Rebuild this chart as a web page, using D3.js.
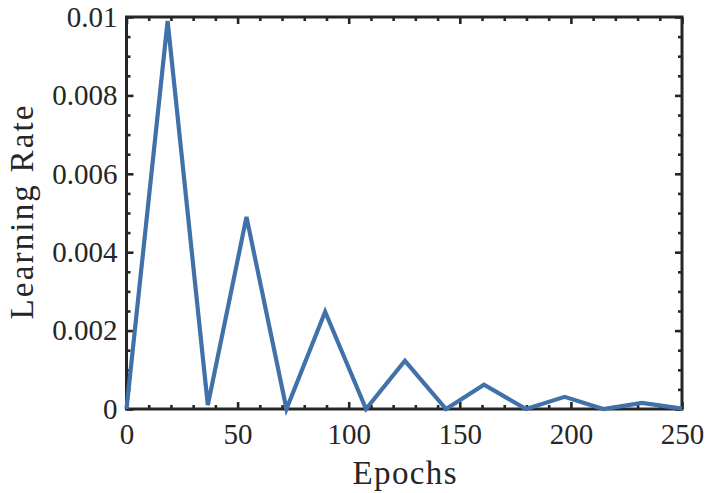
<!DOCTYPE html>
<html>
<head>
<meta charset="utf-8">
<script src="https://cdn.jsdelivr.net/npm/d3@7"></script>
<style>
  body { margin: 0; background: white; }
  text { font-family: "Liberation Serif", "Times New Roman", serif; fill: #262626; }
</style>
</head>
<body>
<script>
const width = 707;
const height = 493;

// values
const epochs = [0, 18.5, 36.6, 54, 72, 89.4, 107.8, 125.3, 143.8, 160.9, 179.8, 197.2, 214.6, 232, 250];
const learningRate = [0, 0.0099, 0.0001, 0.0049, 0, 0.00248, 0, 0.00123, 0, 0.00062, 0, 0.00031, 0, 0.000155, 0.00001];

const xTicks = [0, 50, 100, 150, 200, 250];
const xTickLabels = ["0", "50", "100", "150", "200", "250"];
const yTicks = [0, 0.002, 0.004, 0.006, 0.008, 0.01];
const yTickLabels = ["0", "0.002", "0.004", "0.006", "0.008", "0.01"];
const xMinor = d3.range(0, 251, 10).filter(v => !xTicks.includes(v));
const yMinor = d3.range(0, 21).map(i => i * 0.0005).filter(v => !yTicks.some(t => Math.abs(t - v) < 1e-9));

const plotLeft = 126.5, plotRight = 682, plotTop = 17, plotBottom = 409;

const x = d3.scaleLinear().domain([0, 250]).range([plotLeft, plotRight]);
const y = d3.scaleLinear().domain([0, 0.01]).range([plotBottom, plotTop]);

const svg = d3.select("body")
    .append("svg")
    .attr("width", width)
    .attr("height", height);

const ink = "#262626";

function styleAxis(g) {
    g.select(".domain").remove();
    g.selectAll(".tick line").attr("stroke", ink).attr("stroke-width", 2.6);
    g.selectAll(".tick text").style("font-size", "29px").attr("fill", ink);
}

// bottom
svg.append("g").attr("transform", `translate(0,${plotBottom})`)
    .call(d3.axisBottom(x).tickValues(xTicks).tickSize(-7).tickPadding(14)
        .tickFormat((d, i) => xTickLabels[i]))
    .call(styleAxis);
svg.append("g").attr("transform", `translate(0,${plotBottom})`)
    .call(d3.axisBottom(x).tickValues(xMinor).tickSize(-4).tickFormat(""))
    .call(styleAxis);
// top
svg.append("g").attr("transform", `translate(0,${plotTop})`)
    .call(d3.axisTop(x).tickValues(xTicks).tickSize(-7).tickFormat(""))
    .call(styleAxis);
svg.append("g").attr("transform", `translate(0,${plotTop})`)
    .call(d3.axisTop(x).tickValues(xMinor).tickSize(-4).tickFormat(""))
    .call(styleAxis);
// left
svg.append("g").attr("transform", `translate(${plotLeft},0)`)
    .call(d3.axisLeft(y).tickValues(yTicks).tickSize(-7).tickPadding(9)
        .tickFormat((d, i) => yTickLabels[i]))
    .call(styleAxis);
svg.append("g").attr("transform", `translate(${plotLeft},0)`)
    .call(d3.axisLeft(y).tickValues(yMinor).tickSize(-4).tickFormat(""))
    .call(styleAxis);
// right
svg.append("g").attr("transform", `translate(${plotRight},0)`)
    .call(d3.axisRight(y).tickValues(yTicks).tickSize(-7).tickFormat(""))
    .call(styleAxis);
svg.append("g").attr("transform", `translate(${plotRight},0)`)
    .call(d3.axisRight(y).tickValues(yMinor).tickSize(-4).tickFormat(""))
    .call(styleAxis);

// frame
svg.append("rect")
    .attr("x", plotLeft).attr("y", plotTop)
    .attr("width", plotRight - plotLeft).attr("height", plotBottom - plotTop)
    .attr("fill", "none").attr("stroke", ink).attr("stroke-width", 3);

// learning rate curve
const line = d3.line().x((d, i) => x(epochs[i])).y(d => y(d));
svg.append("path")
    .datum(learningRate)
    .attr("d", line)
    .attr("fill", "none")
    .attr("stroke", "#4072a9")
    .attr("stroke-width", 4.2)
    .attr("stroke-linejoin", "miter");

// axis titles (CM-like spacing, stretched a bit)
svg.append("text")
    .attr("x", 404.5)
    .attr("y", 484)
    .attr("text-anchor", "middle")
    .attr("textLength", 104)
    .attr("lengthAdjust", "spacing")
    .style("font-size", "33px")
    .text("Epochs");

svg.append("text")
    .attr("transform", "translate(33,212.5) rotate(-90)")
    .attr("text-anchor", "middle")
    .attr("textLength", 214)
    .attr("lengthAdjust", "spacing")
    .style("font-size", "33px")
    .text("Learning Rate");
</script>
</body>
</html>
